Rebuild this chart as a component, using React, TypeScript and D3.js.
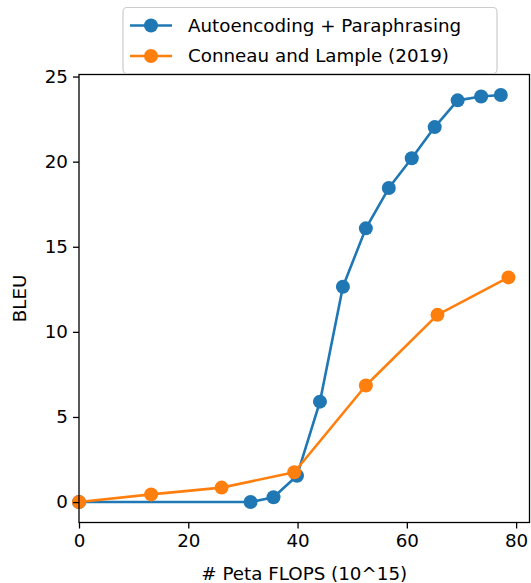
import React, { useEffect, useRef } from "react";
import * as d3 from "d3";

// Autoencoding + Paraphrasing
const aeFlops = [0, 31.4, 35.6, 39.9, 44.1, 48.3, 52.5, 56.7, 60.9, 65.1, 69.3, 73.6, 77.2];
const aeBleu = [0, 0, 0.28, 1.55, 5.9, 12.65, 16.08, 18.45, 20.2, 22.03, 23.6, 23.83, 23.92];

// Conneau and Lample (2019)
const clFlops = [0, 13.2, 26.1, 39.4, 52.5, 65.6, 78.6];
const clBleu = [0, 0.45, 0.85, 1.75, 6.85, 11.0, 13.2];

const seriesNames = ["Autoencoding + Paraphrasing", "Conneau and Lample (2019)"];
const seriesColors = ["#1f77b4", "#ff7f0e"];

const xTicks = [0, 20, 40, 60, 80];
const yTicks = [0, 5, 10, 15, 20, 25];

const xLabel = "# Peta FLOPS (10^15)";
const yLabel = "BLEU";

export default function App() {
    const ref = useRef<SVGSVGElement>(null);

    useEffect(() => {
        document.body.style.margin = "0";
        const left = 79, right = 529.5, top = 74.5, bottom = 522.5;
        const font = "DejaVu Sans";
        const fs = 18.3;

        const svg = d3.select(ref.current);
        svg.selectAll("*").remove();

        const x = d3.scaleLinear().domain([0, 82.45]).range([left, right]);
        const y = d3.scaleLinear().domain([-1.2, 25.12]).range([bottom, top]);

        const series = [
            { name: seriesNames[0], color: seriesColors[0], pts: aeFlops.map((f, i) => [f, aeBleu[i]]) },
            { name: seriesNames[1], color: seriesColors[1], pts: clFlops.map((f, i) => [f, clBleu[i]]) },
        ];

        const line = d3.line<number[]>().x(d => x(d[0])).y(d => y(d[1]));

        const plot = svg.append("g");
        series.forEach(s => {
            plot.append("path")
                .attr("d", line(s.pts))
                .attr("fill", "none")
                .attr("stroke", s.color)
                .attr("stroke-width", 2.6)
                .attr("stroke-linejoin", "round");
            plot.selectAll(null)
                .data(s.pts)
                .join("circle")
                .attr("cx", d => x(d[0]))
                .attr("cy", d => y(d[1]))
                .attr("r", 7)
                .attr("fill", s.color);
        });

        // frame
        svg.append("rect")
            .attr("x", left).attr("y", top)
            .attr("width", right - left).attr("height", bottom - top)
            .attr("fill", "none").attr("stroke", "black").attr("stroke-width", 1.3);

        const xAxis = svg.append("g")
            .attr("transform", `translate(0,${bottom})`)
            .call(d3.axisBottom(x).tickValues(xTicks).tickSize(6).tickPadding(6));
        xAxis.select(".domain").remove();
        xAxis.selectAll("line").attr("stroke-width", 1.3);
        xAxis.selectAll("text").attr("font-family", font).attr("font-size", fs).attr("fill", "black");

        const yAxis = svg.append("g")
            .attr("transform", `translate(${left},0)`)
            .call(d3.axisLeft(y).tickValues(yTicks).tickSize(6).tickPadding(5));
        yAxis.select(".domain").remove();
        yAxis.selectAll("line").attr("stroke-width", 1.3);
        yAxis.selectAll("text").attr("font-family", font).attr("font-size", fs).attr("fill", "black");

        svg.append("text")
            .attr("x", (left + right) / 2).attr("y", 580)
            .attr("text-anchor", "middle")
            .attr("font-family", font).attr("font-size", fs)
            .text(xLabel);

        svg.append("text")
            .attr("transform", `translate(26,${(top + bottom) / 2}) rotate(-90)`)
            .attr("text-anchor", "middle")
            .attr("font-family", font).attr("font-size", fs)
            .text(yLabel);

        // legend
        const lg = svg.append("g");
        lg.append("rect")
            .attr("x", 123).attr("y", 7.5)
            .attr("width", 374).attr("height", 66)
            .attr("rx", 4)
            .attr("fill", "white").attr("fill-opacity", 0.85)
            .attr("stroke", "#cccccc").attr("stroke-width", 1.2);
        series.forEach((s, i) => {
            const cy = 25.5 + i * 30.5;
            lg.append("line")
                .attr("x1", 130).attr("x2", 172)
                .attr("y1", cy).attr("y2", cy)
                .attr("stroke", s.color).attr("stroke-width", 2.6);
            lg.append("circle")
                .attr("cx", 151).attr("cy", cy).attr("r", 7).attr("fill", s.color);
            lg.append("text")
                .attr("x", 188).attr("y", cy)
                .attr("dy", "0.35em")
                .attr("font-family", font).attr("font-size", fs)
                .text(s.name);
        });
    }, []);

    return <svg ref={ref} width={531} height={583} style={{ display: "block" }} />;
}
